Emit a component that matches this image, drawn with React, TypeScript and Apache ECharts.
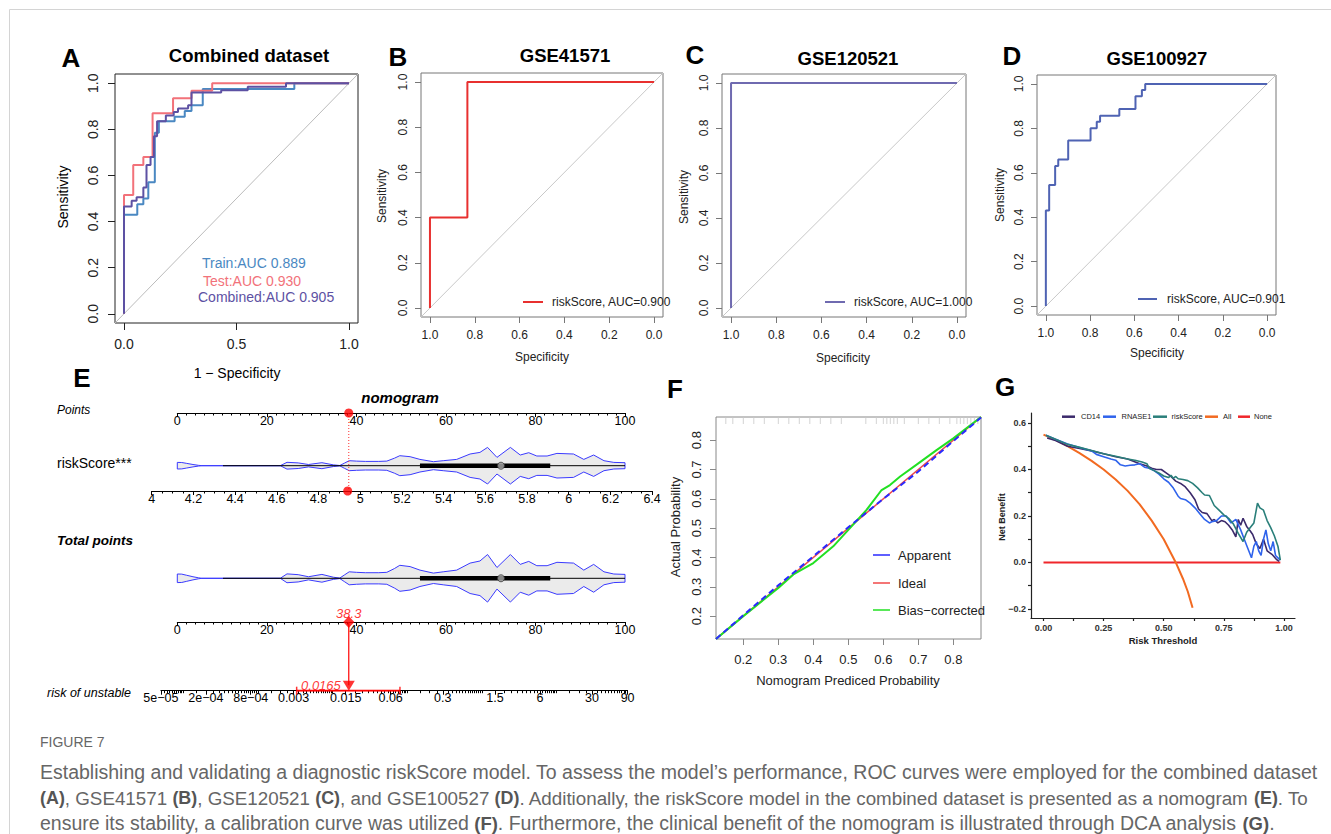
import React, { useEffect, useRef } from "react";
import * as echarts from "echarts";

const FONT = "'Liberation Sans', Arial, Helvetica, sans-serif";

// ---------------- Panel A: Combined dataset ROC (x = 1 - specificity) ----------------
const trainFpr = [0, 0, 0.059, 0.059, 0.086, 0.086, 0.108, 0.108, 0.137, 0.137, 0.155, 0.155, 0.225, 0.225, 0.27, 0.27, 0.3, 0.3, 0.35, 0.35, 0.757, 0.757, 1];
const trainTpr = [0, 0.43, 0.43, 0.475, 0.475, 0.5, 0.5, 0.57, 0.57, 0.785, 0.785, 0.835, 0.835, 0.855, 0.855, 0.88, 0.88, 0.905, 0.905, 0.975, 0.975, 1, 1];
const testFpr = [0, 0, 0.041, 0.041, 0.086, 0.086, 0.127, 0.127, 0.218, 0.218, 0.3, 0.3, 0.392, 0.392, 1];
const testTpr = [0, 0.515, 0.515, 0.645, 0.645, 0.68, 0.68, 0.87, 0.87, 0.935, 0.935, 0.967, 0.967, 1, 1];
const combFpr = [0, 0, 0.034, 0.034, 0.056, 0.056, 0.086, 0.086, 0.1, 0.1, 0.118, 0.118, 0.133, 0.133, 0.147, 0.147, 0.186, 0.186, 0.221, 0.221, 0.24, 0.24, 0.285, 0.285, 0.3, 0.3, 0.432, 0.432, 0.55, 0.55, 0.72, 0.72, 1];
const combTpr = [0, 0.465, 0.465, 0.49, 0.49, 0.505, 0.505, 0.548, 0.548, 0.645, 0.645, 0.68, 0.68, 0.77, 0.77, 0.835, 0.835, 0.86, 0.86, 0.875, 0.875, 0.89, 0.89, 0.905, 0.905, 0.96, 0.96, 0.97, 0.97, 0.985, 0.985, 1, 1];
const aucLabelsA = ["Train:AUC 0.889", "Test:AUC 0.930", "Combined:AUC 0.905"];

// ---------------- Panels B, C, D (x = specificity, reversed) ----------------
const bSpec = [1, 1, 0.833, 0.833, 0];
const bSens = [0, 0.4, 0.4, 1, 1];
const cSpec = [1, 1, 0];
const cSens = [0, 1, 1];
const dSpec = [1, 1, 0.985, 0.985, 0.958, 0.958, 0.944, 0.944, 0.899, 0.899, 0.798, 0.798, 0.77, 0.77, 0.755, 0.755, 0.668, 0.668, 0.595, 0.595, 0.566, 0.566, 0.551, 0.551, 0];
const dSens = [0, 0.43, 0.43, 0.545, 0.545, 0.63, 0.63, 0.66, 0.66, 0.745, 0.745, 0.8, 0.8, 0.83, 0.83, 0.857, 0.857, 0.887, 0.887, 0.944, 0.944, 0.973, 0.973, 1, 1];
const rocTicksA = [0, 0.5, 1];
const rocTicks = [0, 0.2, 0.4, 0.6, 0.8, 1];

// ---------------- Panel E: nomogram ----------------
const violinPts = [0, 1, 2, 3.5, 4.7, 5.5, 23, 24.5, 27, 29.3, 32.3, 34.9, 36.3, 37.3, 38.4, 40, 42, 45, 46.8, 48.5, 49.7, 52, 54.2, 57.2, 59.4, 62.4, 65.4, 67.6, 69.3, 71.4, 74.4, 76.6, 78.5, 80.3, 82.6, 84.8, 88.5, 90.8, 93, 95.3, 97.5, 100];
const violinDens = [3.3, 3.2, 2.4, 1.2, 0.4, 0, 0, 3.4, 2.8, 1.2, 3, 0.8, 0.2, 2.5, 5, 4.6, 4.3, 4.3, 4.6, 7.5, 10, 9, 6.3, 4, 5, 6.3, 11.7, 13.3, 18.3, 8.3, 18.3, 10.7, 13, 9.7, 9.7, 12.3, 11.7, 6.3, 10.7, 5, 3.3, 3];
const whiskerLow = 10.2;
const whiskerHigh = 100;
const boxQ1 = 54.2;
const boxQ3 = 83.3;
const boxMedian = 72.3;
const patientPoints = 38.3;
const patientRiskScore = 4.94;
const patientRisk = 0.0165;
const riskCI = [0.0033, 0.08];
const riskTicks = [5e-5, 2e-4, 8e-4, 0.003, 0.015, 0.06, 0.3, 1.5, 6, 30, 90];
const riskTickLabels = ["5e\u221205", "2e\u221204", "8e\u221204", "0.003", "0.015", "0.06", "0.3", "1.5", "6", "30", "90"];
const riskMinorMultiples = [1, 1.5, 2, 2.5, 3, 3.5, 4, 4.5, 5, 5.5, 6, 6.5, 7, 7.5, 8, 8.5, 9, 9.5];
const riskDecades = [1e-5, 1e-4, 1e-3, 1e-2, 1e-1, 1, 10];

// ---------------- Panel F: calibration ----------------
const calIdeal = [0.122, 0.879];
const appX = [0.122, 0.2, 0.3, 0.4, 0.5, 0.6, 0.7, 0.8, 0.879];
const appY = [0.122, 0.203, 0.305, 0.404, 0.503, 0.6, 0.693, 0.797, 0.877];
const biasX = [0.122, 0.2, 0.3, 0.343, 0.4, 0.457, 0.5, 0.552, 0.595, 0.619, 0.648, 0.7, 0.752, 0.8, 0.879];
const biasY = [0.122, 0.2, 0.296, 0.342, 0.381, 0.438, 0.494, 0.562, 0.63, 0.647, 0.676, 0.721, 0.766, 0.806, 0.879];
const rugX = [0.15, 0.17, 0.2, 0.23, 0.26, 0.3, 0.33, 0.36, 0.39, 0.42, 0.45, 0.48, 0.55, 0.58, 0.6, 0.61, 0.62, 0.63, 0.64, 0.66, 0.7, 0.73, 0.76, 0.79, 0.81, 0.82, 0.83, 0.84, 0.85, 0.86, 0.87];
const calTicks = [0.2, 0.3, 0.4, 0.5, 0.6, 0.7, 0.8];
const calLegend = ["Apparent", "Ideal", "Bias\u2212corrected"];

// ---------------- Panel G: decision curve ----------------
const rsT = [0.01, 0.05, 0.1, 0.15, 0.2, 0.25, 0.3, 0.35, 0.38, 0.41, 0.43, 0.44, 0.46, 0.48, 0.5, 0.52, 0.53, 0.54, 0.55, 0.56, 0.58, 0.6, 0.62, 0.64, 0.66, 0.67, 0.69, 0.71, 0.73, 0.75, 0.77, 0.79, 0.81, 0.83, 0.845, 0.86, 0.875, 0.89, 0.9, 0.915, 0.93, 0.945, 0.96, 0.975, 0.985];
const rsNB = [0.547, 0.53, 0.508, 0.495, 0.482, 0.468, 0.457, 0.445, 0.44, 0.432, 0.425, 0.405, 0.395, 0.385, 0.372, 0.365, 0.375, 0.362, 0.37, 0.36, 0.357, 0.352, 0.34, 0.322, 0.3, 0.29, 0.288, 0.245, 0.225, 0.205, 0.19, 0.165, 0.125, 0.09, 0.13, 0.15, 0.17, 0.255, 0.235, 0.225, 0.18, 0.15, 0.115, 0.07, 0.01];
const cdT = [0.015, 0.05, 0.1, 0.15, 0.2, 0.25, 0.3, 0.35, 0.4, 0.43, 0.45, 0.47, 0.49, 0.51, 0.53, 0.55, 0.57, 0.59, 0.61, 0.63, 0.645, 0.66, 0.68, 0.7, 0.71, 0.725, 0.74, 0.755, 0.77, 0.785, 0.8, 0.81, 0.82, 0.83, 0.845, 0.86, 0.87, 0.885, 0.9, 0.915, 0.93, 0.95, 0.97, 0.98];
const cdNB = [0.535, 0.525, 0.5, 0.49, 0.48, 0.468, 0.455, 0.445, 0.425, 0.415, 0.405, 0.4, 0.4, 0.385, 0.37, 0.35, 0.34, 0.325, 0.3, 0.27, 0.23, 0.215, 0.21, 0.18, 0.185, 0.17, 0.18, 0.175, 0.16, 0.14, 0.11, 0.185, 0.16, 0.19, 0.155, 0.135, 0.12, 0.08, 0.06, 0.1, 0.05, 0.035, 0.012, 0.005];
const rnT = [0.01, 0.05, 0.1, 0.15, 0.2, 0.22, 0.25, 0.28, 0.3, 0.32, 0.34, 0.36, 0.38, 0.4, 0.42, 0.44, 0.46, 0.48, 0.5, 0.52, 0.54, 0.56, 0.57, 0.59, 0.61, 0.63, 0.65, 0.67, 0.69, 0.7, 0.72, 0.74, 0.76, 0.78, 0.8, 0.82, 0.835, 0.85, 0.865, 0.875, 0.885, 0.895, 0.905, 0.915, 0.925, 0.935, 0.945, 0.955, 0.965, 0.975, 0.985];
const rnNB = [0.547, 0.53, 0.51, 0.495, 0.48, 0.465, 0.455, 0.445, 0.44, 0.42, 0.415, 0.418, 0.42, 0.425, 0.41, 0.405, 0.395, 0.38, 0.36, 0.345, 0.32, 0.285, 0.275, 0.27, 0.255, 0.235, 0.21, 0.185, 0.17, 0.175, 0.18, 0.2, 0.2, 0.17, 0.185, 0.14, 0.1, 0.06, 0.02, 0.07, 0.09, 0.05, 0.03, 0.1, 0.14, 0.08, 0.05, 0.09, 0.03, 0.02, 0.01];
const allT = [0, 0.05, 0.1, 0.15, 0.2, 0.25, 0.3, 0.35, 0.4, 0.45, 0.5, 0.55, 0.58, 0.6, 0.62];
const allNB = [0.55, 0.527, 0.5, 0.47, 0.437, 0.4, 0.357, 0.308, 0.25, 0.18, 0.1, 0.0, -0.07, -0.125, -0.195];
const noneT = [0, 0.985];
const noneNB = [0, 0];
const dcaXTicks = [0, 0.125, 0.25, 0.375, 0.5, 0.625, 0.75, 0.875, 1];
const dcaXLabels = [0, 0.25, 0.5, 0.75, 1];
const dcaYTicks = [-0.2, -0.1, 0, 0.1, 0.2, 0.3, 0.4, 0.5, 0.6];
const dcaYLabels = [-0.2, 0, 0.2, 0.4, 0.6];
const dcaNames = ["CD14", "RNASE1", "riskScore", "All", "None"];

const zip = (a: number[], b: number[]) => a.map((v, i) => [v, b[i]]);

function buildOption() {
  const grids: any[] = [
    { left: 115, top: 74, width: 243, height: 249, show: true, borderColor: "#222", borderWidth: 1 }, // 0 A
    { left: 421, top: 73, width: 242, height: 244, show: true, borderColor: "#777", borderWidth: 1 }, // 1 B
    { left: 722, top: 74, width: 244, height: 243, show: true, borderColor: "#777", borderWidth: 1 }, // 2 C
    { left: 1037, top: 75, width: 239, height: 240, show: true, borderColor: "#777", borderWidth: 1 }, // 3 D
    { left: 716, top: 417, width: 265, height: 222, show: true, borderColor: "#888", borderWidth: 1 }, // 4 F
    { left: 1031, top: 413, width: 264, height: 205 }, // 5 G
    { left: 177.3, top: 395, width: 447.7, height: 18 }, // 6 points axis
    { left: 177.3, top: 445.7, width: 447.7, height: 40 }, // 7 violin 1
    { left: 151.7, top: 471, width: 500.4, height: 20 }, // 8 riskScore axis
    { left: 177.3, top: 413, width: 447.7, height: 78 }, // 9 link 1
    { left: 177.3, top: 552.3, width: 447.7, height: 52 }, // 10 violin 2
    { left: 177.3, top: 600, width: 447.7, height: 22 }, // 11 total points axis
    { left: 177.3, top: 622, width: 447.7, height: 68.7 }, // 12 link 2
    { left: 160.9, top: 670, width: 466.7, height: 20.7 }, // 13 risk axis
  ];

  const rocX = (gi: number, inverse: boolean, ticks: number[], fs: number, margin: number, tl: number, col: string) => ({
    type: "value", gridIndex: gi, min: -0.04, max: 1.04, inverse,
    axisLine: { show: false, onZero: false }, splitLine: { show: false },
    axisTick: { show: true, customValues: ticks, length: tl, lineStyle: { color: col, width: 1 } },
    axisLabel: { show: true, customValues: ticks, formatter: (v: number) => v.toFixed(1), fontSize: fs, color: "#222", margin, fontFamily: FONT },
  });
  const rocY = (gi: number, ticks: number[], fs: number, margin: number, tl: number, col: string) => ({
    type: "value", gridIndex: gi, min: -0.04, max: 1.04,
    axisLine: { show: false, onZero: false }, splitLine: { show: false },
    axisTick: { show: true, customValues: ticks, length: tl, lineStyle: { color: col, width: 1 } },
    axisLabel: { show: true, customValues: ticks, rotate: 90, formatter: (v: number) => v.toFixed(1), fontSize: fs, color: "#222", margin, fontFamily: FONT },
  });
  const hidden = (gi: number, min: number, max: number) => ({ type: "value", gridIndex: gi, min, max, show: false, axisLine: { onZero: false } });
  const nomoAxis = (gi: number, min: number, max: number, interval: number, split: number, fmt: (v: number) => string) => ({
    type: "value", gridIndex: gi, min, max, interval, position: "bottom",
    axisLine: { show: true, onZero: false, lineStyle: { color: "#000", width: 1 } },
    axisTick: { show: true, length: 4, lineStyle: { color: "#000", width: 1 } },
    minorTick: { show: true, splitNumber: split, length: 2.5, lineStyle: { color: "#000", width: 1 } },
    splitLine: { show: false }, minorSplitLine: { show: false },
    axisLabel: { show: true, margin: 1, fontSize: 12.5, color: "#000", fontFamily: FONT, formatter: fmt, showMinLabel: true, showMaxLabel: true },
  });

  const lnMin = Math.log(riskTicks[0]);
  const lnMax = Math.log(riskTicks[riskTicks.length - 1]);
  const riskLn = riskTicks.map((t) => Math.log(t));
  const minorLn: number[] = [];
  riskDecades.forEach((d) => riskMinorMultiples.forEach((m) => {
    const v = Math.log(d * m);
    if (v >= lnMin - 1e-9 && v <= lnMax + 1e-9) minorLn.push(v);
  }));

  const xAxes: any[] = [
    rocX(0, false, rocTicksA, 14, 14, 7, "#222"),
    rocX(1, true, rocTicks, 12, 12, 6, "#777"),
    rocX(2, true, rocTicks, 12, 12, 6, "#777"),
    rocX(3, true, rocTicks, 12, 12, 6, "#777"),
    {
      type: "value", gridIndex: 4, min: 0.122, max: 0.879,
      axisLine: { show: false, onZero: false }, splitLine: { show: false },
      axisTick: { show: true, customValues: calTicks, length: 6, lineStyle: { color: "#888" } },
      axisLabel: { customValues: calTicks, formatter: (v: number) => v.toFixed(1), fontSize: 13, color: "#222", margin: 14, fontFamily: FONT },
    },
    {
      type: "value", gridIndex: 5, min: -0.052, max: 1.046,
      axisLine: { show: true, onZero: false, lineStyle: { color: "#222", width: 1.2 } }, splitLine: { show: false },
      axisTick: { show: true, customValues: dcaXTicks, length: 3, lineStyle: { color: "#222", width: 1.2 } },
      axisLabel: { customValues: dcaXLabels, formatter: (v: number) => v.toFixed(2), fontSize: 9, fontWeight: "bold", color: "#333", margin: 5, fontFamily: FONT },
    },
    nomoAxis(6, 0, 100, 20, 10, (v) => String(v)),
    hidden(7, 0, 100),
    nomoAxis(8, 4, 6.4, 0.2, 4, (v) => String(Math.round(v * 10) / 10)),
    hidden(9, 0, 100),
    hidden(10, 0, 100),
    nomoAxis(11, 0, 100, 20, 10, (v) => String(v)),
    hidden(12, 0, 100),
    {
      type: "value", gridIndex: 13, min: lnMin, max: lnMax, position: "bottom",
      axisLine: { show: true, onZero: false, lineStyle: { color: "#000", width: 1 } },
      axisTick: { show: true, customValues: riskLn, length: 4, lineStyle: { color: "#000" } },
      splitLine: { show: false },
      axisLabel: {
        customValues: riskLn, margin: 1, fontSize: 12.5, color: "#000", fontFamily: FONT,
        formatter: (v: number) => {
          const i = riskLn.findIndex((r) => Math.abs(r - v) < 1e-6);
          return i >= 0 ? riskTickLabels[i] : "";
        },
      },
    },
    {
      type: "value", gridIndex: 13, min: lnMin, max: lnMax, position: "bottom", offset: 0,
      axisLine: { show: false, onZero: false },
      axisTick: { show: true, customValues: minorLn, length: 2.5, lineStyle: { color: "#000" } },
      axisLabel: { show: false }, splitLine: { show: false },
    },
  ];

  const yAxes: any[] = [
    rocY(0, rocTicks, 14, 15, 7, "#222"),
    rocY(1, rocTicks, 12, 12, 6, "#777"),
    rocY(2, rocTicks, 12, 12, 6, "#777"),
    rocY(3, rocTicks, 12, 12, 6, "#777"),
    {
      type: "value", gridIndex: 4, min: 0.122, max: 0.879,
      axisLine: { show: false, onZero: false }, splitLine: { show: false },
      axisTick: { show: true, customValues: calTicks, length: 6, lineStyle: { color: "#888" } },
      axisLabel: { customValues: calTicks, rotate: 90, formatter: (v: number) => v.toFixed(1), fontSize: 13, color: "#222", margin: 13, fontFamily: FONT },
    },
    {
      type: "value", gridIndex: 5, min: -0.239, max: 0.643,
      axisLine: { show: true, onZero: false, lineStyle: { color: "#222", width: 1.2 } }, splitLine: { show: false },
      axisTick: { show: true, customValues: dcaYTicks, length: 3, lineStyle: { color: "#222", width: 1.2 } },
      axisLabel: { customValues: dcaYLabels, formatter: (v: number) => v.toFixed(1).replace("-", "\u2212"), fontSize: 9, fontWeight: "bold", color: "#333", margin: 5, fontFamily: FONT },
    },
    hidden(6, 0, 1),
    hidden(7, -20, 20),
    hidden(8, 0, 1),
    hidden(9, 0, 1),
    hidden(10, -20, 20),
    hidden(11, 0, 1),
    hidden(12, 0, 1),
    hidden(13, 0, 1),
  ];

  const line = (gi: number, data: number[][], color: string, width: number, extra: any = {}) => ({
    type: "line", xAxisIndex: gi, yAxisIndex: gi, data, showSymbol: false, symbol: "none", silent: true,
    lineStyle: { color, width, ...(extra.lineStyle || {}) }, z: extra.z || 2,
  });
  const scatter = (gi: number, data: number[][], opts: any) => ({
    type: "scatter", xAxisIndex: gi, yAxisIndex: gi, data, silent: true, clip: false, z: 5, ...opts,
  });

  const violin = (gi: number) => ({
    type: "custom", xAxisIndex: gi, yAxisIndex: gi, data: [[0, 0]], silent: true, clip: false, z: 2,
    renderItem: (_p: any, api: any) => {
      const top = violinPts.map((p, i) => api.coord([p, violinDens[i]]));
      const bot = violinPts.map((p, i) => api.coord([p, -violinDens[i]])).reverse();
      return { type: "polygon", shape: { points: top.concat(bot) }, style: { fill: "#ebebeb", stroke: "#3a3aff", lineWidth: 1 } };
    },
  });
  const violinParts = (gi: number) => [
    violin(gi),
    line(gi, [[whiskerLow, 0], [whiskerHigh, 0]], "#000", 1, { z: 3 }),
    line(gi, [[boxQ1, 0], [boxQ3, 0]], "#000", 4.5, { z: 4 }),
    scatter(gi, [[boxMedian, 0]], { symbol: "circle", symbolSize: 7, itemStyle: { color: "#aaaaaa", borderColor: "#333", borderWidth: 1 } }),
  ];

  const series: any[] = [
    // A
    line(0, [[-0.04, -0.04], [1.04, 1.04]], "#bbbbbb", 1),
    line(0, zip(trainFpr, trainTpr), "#4a88c2", 2),
    line(0, zip(testFpr, testTpr), "#f2727a", 2),
    line(0, zip(combFpr, combTpr), "#5d51a3", 2),
    // B
    line(1, [[1.04, -0.04], [-0.04, 1.04]], "#c8c8c8", 1),
    line(1, zip(bSpec, bSens), "#e8302f", 2),
    // C
    line(2, [[1.04, -0.04], [-0.04, 1.04]], "#c8c8c8", 1),
    line(2, zip(cSpec, cSens), "#6f6ab0", 2),
    // D
    line(3, [[1.04, -0.04], [-0.04, 1.04]], "#c8c8c8", 1),
    line(3, zip(dSpec, dSens), "#4f63b3", 2),
    // F
    line(4, [[calIdeal[0], calIdeal[0]], [calIdeal[1], calIdeal[1]]], "#f04848", 1.5),
    line(4, zip(biasX, biasY), "#22e022", 2),
    line(4, zip(appX, appY), "#2a2aff", 2, { lineStyle: { type: [6, 4] }, z: 3 }),
    scatter(4, rugX.map((x) => [x, 0.879]), { symbol: "rect", symbolSize: [1, 7], symbolOffset: [0, 3.5], itemStyle: { color: "#c8c8c8" }, z: 1 }),
    // G
    line(5, zip(noneT, noneNB), "#f0262b", 2),
    line(5, zip(allT, allNB), "#f26a21", 2),
    line(5, zip(cdT, cdNB), "#3b2a6b", 1.6),
    line(5, zip(rnT, rnNB), "#2f63ec", 1.6),
    line(5, zip(rsT, rsNB), "#2a7f7a", 1.6),
    // E
    scatter(6, [[patientPoints, 0]], { symbol: "circle", symbolSize: 9, itemStyle: { color: "#ff0000" } }),
    ...violinParts(7),
    scatter(8, [[patientRiskScore, 0]], { symbol: "circle", symbolSize: 9, itemStyle: { color: "#ff0000" } }),
    line(9, [[patientPoints, 1], [patientPoints, 0]], "#ff3030", 1, { lineStyle: { type: [1, 2] } }),
    ...violinParts(10),
    scatter(11, [[patientPoints, 0]], {
      symbol: "diamond", symbolSize: [11, 12], itemStyle: { color: "#ff0000" },
      label: { show: true, position: "top", distance: -4, formatter: String(patientPoints), color: "#ff0000", fontStyle: "italic", fontSize: 13, fontFamily: FONT },
    }),
    line(12, [[patientPoints, 1], [patientPoints, 0.08]], "#ff0000", 1.2),
    line(13, [[Math.log(riskCI[0]), 0], [Math.log(riskCI[1]), 0]], "#ff0000", 2, { z: 4 }),
    scatter(13, [[Math.log(riskCI[0]), 0], [Math.log(riskCI[1]), 0]], { symbol: "rect", symbolSize: [1.5, 8], itemStyle: { color: "#ff0000" } }),
    scatter(13, [[Math.log(patientRisk), 0]], {
      symbol: "triangle", symbolRotate: 180, symbolSize: [12, 10], symbolOffset: [0, -5], itemStyle: { color: "#ff0000" },
      label: { show: true, position: "left", distance: 2, formatter: String(patientRisk), color: "#ff0000", fontStyle: "italic", fontSize: 13, fontFamily: FONT },
    }),
  ];

  const T = (x: number, y: number, text: string, o: any = {}) => ({
    type: "text", x, y, rotation: o.rot || 0, silent: true, z: 10,
    style: {
      text, fontSize: o.size || 12, fontWeight: o.weight || "normal", fontStyle: o.fstyle || "normal",
      fill: o.color || "#000", align: o.align || "center", verticalAlign: "middle", fontFamily: FONT, rich: o.rich,
    },
  });
  const L = (x1: number, y1: number, x2: number, y2: number, color: string, w: number) => ({
    type: "line", silent: true, z: 10, shape: { x1, y1, x2, y2 }, style: { stroke: color, lineWidth: w },
  });
  const R90 = Math.PI / 2;

  const richB3 = { b: { fontWeight: "bold", fill: "#555", fontSize: 18.5, fontFamily: FONT } };
  const richB2 = { b: { fontWeight: "bold", fill: "#555", fontSize: 17.9, fontFamily: FONT } };
  const graphic: any[] = [
    { type: "rect", silent: true, shape: { x: 9.5, y: 9.5, width: 1400, height: 900 }, style: { fill: "none", stroke: "#d4d4d4", lineWidth: 1 } },
    // letters
    T(71, 58, "A", { size: 26, weight: "bold" }),
    T(398, 57, "B", { size: 26, weight: "bold" }),
    T(695, 55, "C", { size: 26, weight: "bold" }),
    T(1012, 56, "D", { size: 26, weight: "bold" }),
    T(82, 378, "E", { size: 26, weight: "bold" }),
    T(675, 389, "F", { size: 26, weight: "bold" }),
    T(1005, 387, "G", { size: 26, weight: "bold" }),
    // titles
    T(249, 55, "Combined dataset", { size: 18.5, weight: "bold" }),
    T(565, 55, "GSE41571", { size: 18.5, weight: "bold" }),
    T(848, 58, "GSE120521", { size: 18.5, weight: "bold" }),
    T(1157, 58, "GSE100927", { size: 18.5, weight: "bold" }),
    // A axis names + legend
    T(63, 197, "Sensitivity", { size: 14, rot: R90 }),
    T(237, 373, "1 \u2212 Specificity", { size: 14 }),
    T(202, 263, aucLabelsA[0], { size: 14, align: "left", color: "#4a88c2" }),
    T(203, 281, aucLabelsA[1], { size: 14, align: "left", color: "#f2727a" }),
    T(198, 297, aucLabelsA[2], { size: 14, align: "left", color: "#5d51a3" }),
    // B, C, D axis names + legends
    T(382, 196, "Sensitivity", { size: 12, rot: R90, color: "#222" }),
    T(542, 357, "Specificity", { size: 12, color: "#222" }),
    T(684, 197, "Sensitivity", { size: 12, rot: R90, color: "#222" }),
    T(843, 358, "Specificity", { size: 12, color: "#222" }),
    T(1000, 195, "Sensitivity", { size: 12, rot: R90, color: "#222" }),
    T(1157, 353, "Specificity", { size: 12, color: "#222" }),
    L(523, 302, 543, 302, "#e8302f", 2),
    T(552, 302, "riskScore, AUC=0.900", { size: 12, align: "left", color: "#222" }),
    L(825, 302, 845, 302, "#6f6ab0", 2),
    T(854, 302, "riskScore, AUC=1.000", { size: 12, align: "left", color: "#222" }),
    L(1138, 299, 1157, 299, "#4f63b3", 2),
    T(1167, 299, "riskScore, AUC=0.901", { size: 12, align: "left", color: "#222" }),
    // E labels
    T(400, 397, "nomogram", { size: 15, weight: "bold", fstyle: "italic" }),
    T(57, 410, "Points", { size: 12, fstyle: "italic", align: "left" }),
    T(57, 463, "riskScore***", { size: 14, align: "left" }),
    T(57, 540, "Total points", { size: 13.5, weight: "bold", fstyle: "italic", align: "left" }),
    T(47, 693, "risk of unstable", { size: 12.5, fstyle: "italic", align: "left" }),
    // F
    T(675, 527, "Actual Probability", { size: 13, rot: R90, color: "#222" }),
    T(848, 680, "Nomogram Prediced Probability", { size: 13, color: "#222" }),
    L(873, 555, 890, 555, "#2a2aff", 1.5),
    T(898, 555, calLegend[0], { size: 13, align: "left", color: "#222" }),
    L(873, 583, 890, 583, "#f04848", 1.5),
    T(898, 583, calLegend[1], { size: 13, align: "left", color: "#222" }),
    L(873, 610, 890, 610, "#22e022", 1.5),
    T(898, 610, calLegend[2], { size: 13, align: "left", color: "#222" }),
    // G
    T(1002, 517, "Net Benefit", { size: 9, weight: "bold", rot: R90, color: "#222" }),
    T(1163, 640, "Risk Threshold", { size: 9.5, weight: "bold", color: "#222" }),
    L(1062, 416.7, 1075, 416.7, "#3b2a6b", 2.5),
    T(1081, 416.7, dcaNames[0], { size: 7.5, align: "left", color: "#222" }),
    L(1103, 416.7, 1116, 416.7, "#2f63ec", 2.5),
    T(1121.5, 416.7, dcaNames[1], { size: 7.5, align: "left", color: "#222" }),
    L(1153, 416.7, 1167, 416.7, "#2a7f7a", 2.5),
    T(1171.5, 416.7, dcaNames[2], { size: 7.5, align: "left", color: "#222" }),
    L(1205, 416.7, 1218, 416.7, "#f26a21", 2.5),
    T(1223, 416.7, dcaNames[3], { size: 7.5, align: "left", color: "#222" }),
    L(1238, 416.7, 1250, 416.7, "#f0262b", 2.5),
    T(1254, 416.7, dcaNames[4], { size: 7.5, align: "left", color: "#222" }),
    // caption
    T(40, 742, "FIGURE 7", { size: 14, align: "left", color: "#666" }),
    T(40, 772, "Establishing and validating a diagnostic riskScore model. To assess the model\u2019s performance, ROC curves were employed for the combined dataset", { size: 19.5, align: "left", color: "#666" }),
    T(40, 798, "{b|(A)}, GSE41571 {b|(B)}, GSE120521 {b|(C)}, and GSE100527 {b|(D)}. Additionally, the riskScore model in the combined dataset is presented as a nomogram {b|(E)}. To", { size: 18.8, align: "left", color: "#666", rich: richB2 }),
    T(40, 823, "ensure its stability, a calibration curve was utilized {b|(F)}. Furthermore, the clinical benefit of the nomogram is illustrated through DCA analysis {b|(G)}.", { size: 19.5, align: "left", color: "#666", rich: richB3 }),
  ];

  return {
    animation: false,
    backgroundColor: "#ffffff",
    textStyle: { fontFamily: FONT },
    grid: grids,
    xAxis: xAxes,
    yAxis: yAxes,
    series,
    graphic,
  };
}

export default function App() {
  const ref = useRef<HTMLDivElement>(null);
  useEffect(() => {
    document.body.style.margin = "0";
    const chart = echarts.init(ref.current as HTMLDivElement, null, { renderer: "svg" });
    chart.setOption(buildOption() as any);
    return () => chart.dispose();
  }, []);
  return <div ref={ref} style={{ position: "absolute", left: 0, top: 0, width: 1331, height: 834 }} />;
}
